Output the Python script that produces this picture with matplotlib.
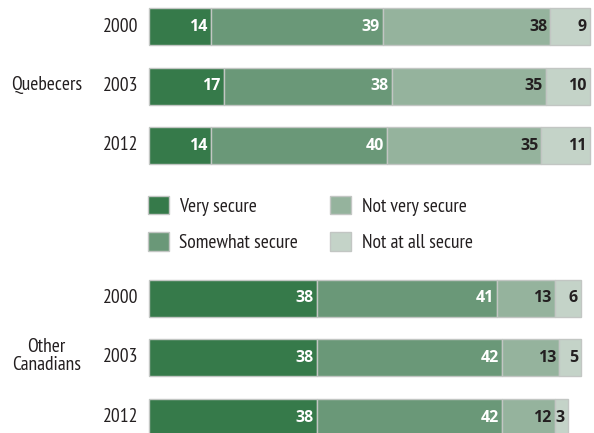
import numpy as np
import matplotlib.pyplot as plt
from matplotlib.patches import Patch

# ── Data ──────────────────────────────────────────────────────
groups = ["Quebecers", "Other\nCanadians"]
years = ["2000", "2003", "2012"]
categories = ["Very secure", "Somewhat secure", "Not very secure", "Not at all secure"]

quebecers = [
    [14, 39, 38, 9],
    [17, 38, 35, 10],
    [14, 40, 35, 11],
]
other_canadians = [
    [38, 41, 13, 6],
    [38, 42, 13, 5],
    [38, 42, 12, 3],
]

# ── Style ─────────────────────────────────────────────────────
COLORS = ["#367a4a", "#6a9878", "#95b39d", "#c4d3c8"]
TEXT_COLORS = ["white", "white", "#231f20", "#231f20"]
EDGE = "#c2c6c3"
NARROW = ["PT Sans Narrow", "Roboto Condensed", "DejaVu Sans"]
BOLD = ["Open Sans", "DejaVu Sans"]
LABEL_SIZE = 14

fig = plt.figure(figsize=(5.94, 4.33), dpi=100)
ax = fig.add_axes([0, 0, 1, 1])

# x in percent, scaled so 0..100 spans the bar area
x0_px, px_per_unit = 149, 4.41
ax.set_xlim(-x0_px / px_per_unit, (594 - x0_px) / px_per_unit)
ax.set_ylim(433, 0)
ax.axis("off")

bar_h = 37
row_gap = 59.5
group_tops = [26.5, 298]

for group, data, top in zip(groups, [quebecers, other_canadians], group_tops):
    data = np.array(data)
    ys = top + np.arange(len(years)) * row_gap
    left = np.zeros(len(years))
    for k in range(len(categories)):
        vals = data[:, k]
        ax.barh(ys, vals, left=left, height=bar_h, color=COLORS[k],
                edgecolor=EDGE, linewidth=1.0)
        for y, l, v in zip(ys, left, vals):
            ax.text(l + v - 0.7, y + 0.5, str(v), ha="right", va="center",
                    fontsize=11.5, fontweight="bold", color=TEXT_COLORS[k],
                    family=BOLD)
        left += vals
    for y, yr in zip(ys, years):
        ax.text(-2.5, y, yr, ha="right", va="center", fontsize=LABEL_SIZE,
                color="#231f20", family=NARROW)
    ax.text(-23.3, ys[1] - 1.5, group, ha="center", va="center",
            fontsize=LABEL_SIZE, color="#231f20", family=NARROW,
            linespacing=1.05)

# ── Legend ────────────────────────────────────────────────────
handles = [Patch(facecolor=c, edgecolor=EDGE, linewidth=1.0) for c in COLORS]
fig.legend(handles, categories, ncol=2, frameon=False,
           loc="upper left", bbox_to_anchor=(134 / 594, 1 - 182 / 433),
           prop={"family": NARROW, "size": LABEL_SIZE},
           handlelength=1.08, handleheight=1.1, handletextpad=0.55,
           columnspacing=1.65, labelspacing=0.85, borderpad=0.2,
           labelcolor="#231f20")

fig.savefig("out.png", dpi=100)
